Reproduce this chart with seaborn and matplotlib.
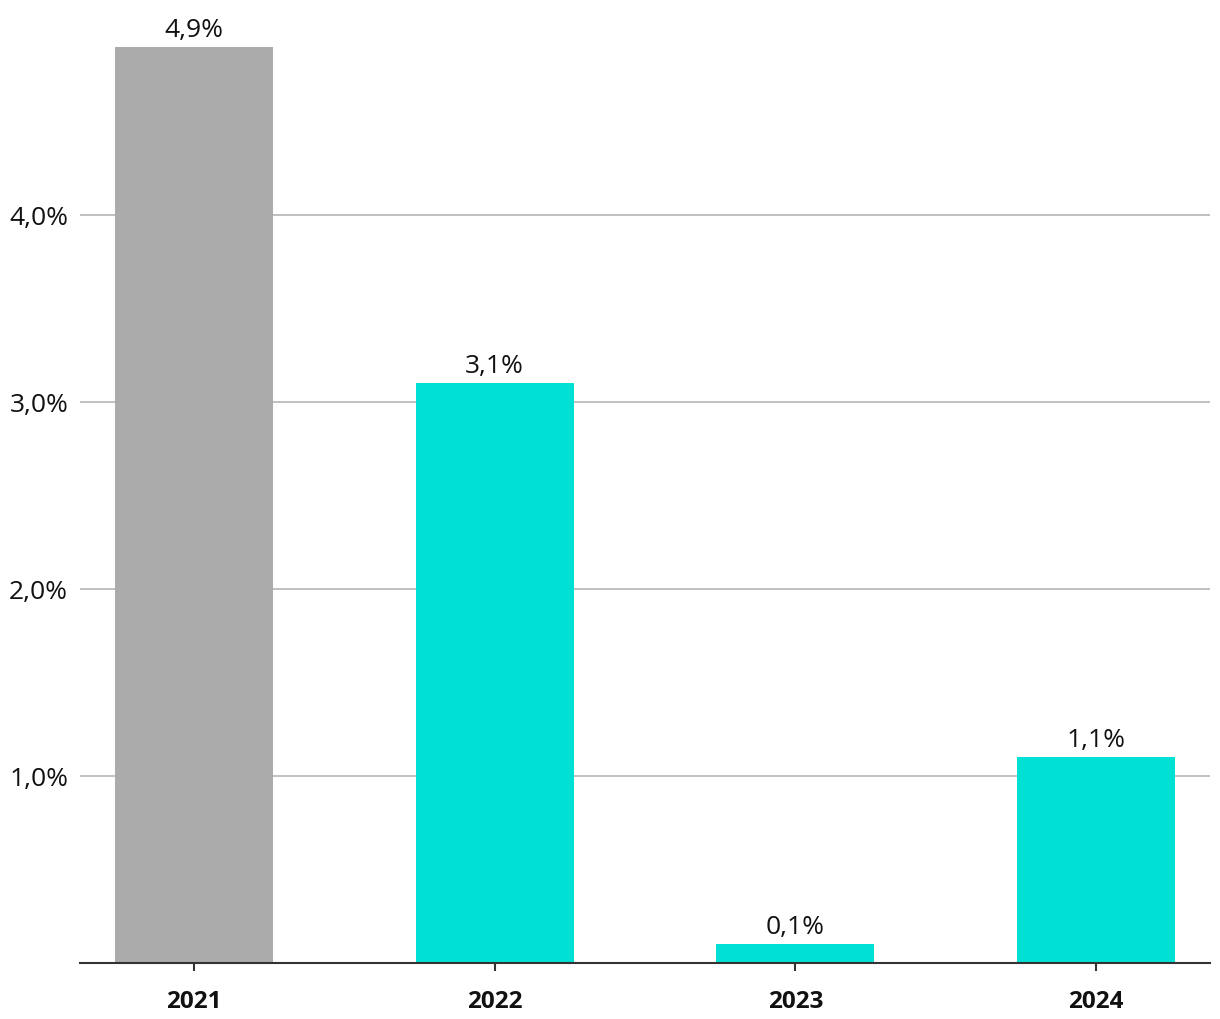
import matplotlib
matplotlib.use('Agg')
import matplotlib.pyplot as plt
import pandas as pd
import seaborn as sns

years = ['2021', '2022', '2023', '2024']
values = [4.9, 3.1, 0.1, 1.1]
colors = ['#ababab', '#00e0d4', '#00e0d4', '#00e0d4']
yticks = [1.0, 2.0, 3.0, 4.0]

df = pd.DataFrame({'year': years, 'value': values})

sns.set_theme(style='white')
plt.rcParams['font.family'] = ['Open Sans', 'DejaVu Sans']

fig = plt.figure(figsize=(12.2, 10.2), dpi=100)
ax = fig.add_axes([80 / 1220, 56 / 1020, 1130 / 1220, 935 / 1020])

sns.barplot(data=df, x='year', y='value', hue='year', palette=colors,
            width=0.525, saturation=1, legend=False, linewidth=0, ax=ax)

ax.set_ylim(0, 5.0)
ax.set_xlim(-0.379, 3.379)
ax.set_yticks(yticks)
ax.set_yticklabels([f'{v:.1f}%'.replace('.', ',') for v in yticks], fontsize=19, color='#111111')
ax.yaxis.grid(True, color='#bbbbbb', linewidth=1.3)
ax.set_axisbelow(True)
ax.tick_params(axis='y', length=0, pad=8.5)
ax.tick_params(axis='x', length=6, width=1.5, color='#333333', direction='out', bottom=True, pad=13)
for lbl in ax.get_xticklabels():
    lbl.set_fontweight('bold')
    lbl.set_fontsize(17.5)
    lbl.set_color('#111111')

for s in ['top', 'right', 'left']:
    ax.spines[s].set_visible(False)
ax.spines['bottom'].set_color('#333333')
ax.spines['bottom'].set_linewidth(1.5)

for c in ax.containers:
    ax.bar_label(c, labels=[f'{v:.1f}%'.replace('.', ',') for v in c.datavalues],
                 padding=3.5, fontsize=19, color='#111111')

ax.set_xlabel('')
ax.set_ylabel('')

fig.savefig('out.png', dpi=100)
